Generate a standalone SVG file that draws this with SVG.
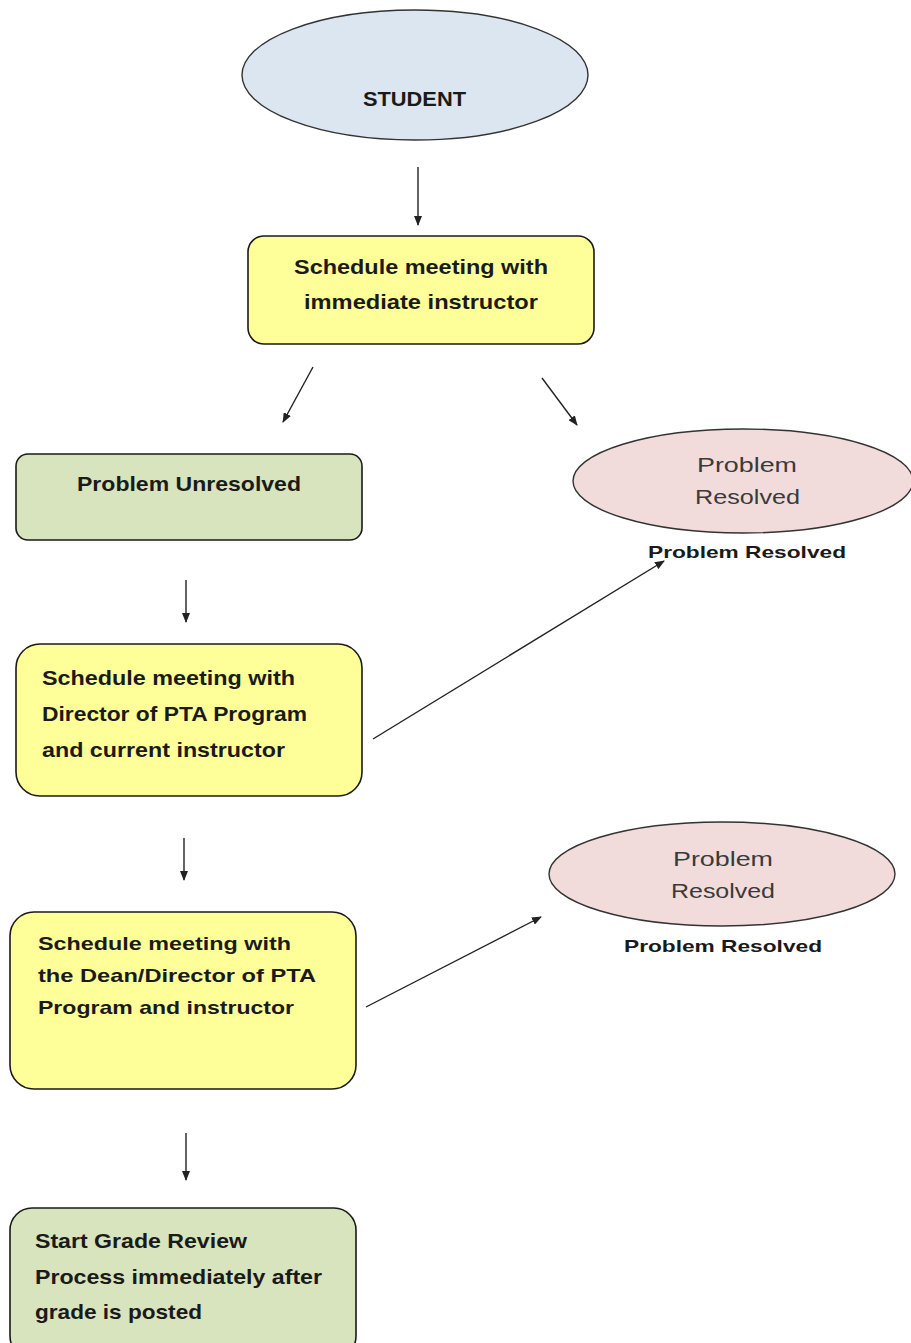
<svg xmlns="http://www.w3.org/2000/svg" width="911" height="1343" viewBox="0 0 911 1343">
<style>
.box{stroke:#1a1a1a;stroke-width:1.6}
.yel{fill:#ffff99}
.grn{fill:#d7e4bd}
.pink{fill:#f2dcdb;stroke:#333;stroke-width:1.4}
.blue{fill:#dce6f1;stroke:#333;stroke-width:1.4}
.bt{font-family:"Liberation Sans",Arial,sans-serif;font-weight:bold;font-size:21px;fill:#1a1a1a}
.bt19{font-family:"Liberation Sans",Arial,sans-serif;font-weight:bold;font-size:19px;fill:#1a1a1a}
.et{font-family:"Liberation Sans",Arial,sans-serif;font-size:20px;fill:#3a3a3a}
.lb{font-family:"Liberation Sans",Arial,sans-serif;font-weight:bold;font-size:17px;fill:#1a1a1a}
.con{stroke:#222;stroke-width:1.4;fill:none;marker-end:url(#ah)}
</style>
<defs>
<marker id="ah" markerWidth="10" markerHeight="8" refX="9" refY="4" orient="auto" markerUnits="userSpaceOnUse">
<path d="M0,0 L10,4 L0,8 Z" fill="#222"/>
</marker>
</defs>
<rect width="911" height="1343" fill="#ffffff"/>

<g id="connectors">
<line class="con" x1="418" y1="167" x2="418" y2="225"/>
<line class="con" x1="313" y1="367" x2="283" y2="422"/>
<line class="con" x1="542" y1="378" x2="577" y2="425"/>
<line class="con" x1="186" y1="580" x2="186" y2="622"/>
<line class="con" x1="373" y1="739" x2="664" y2="561"/>
<line class="con" x1="184" y1="838" x2="184" y2="880"/>
<line class="con" x1="366" y1="1007" x2="541" y2="917"/>
<line class="con" x1="186" y1="1133" x2="186" y2="1180"/>
</g>

<g id="student">
<ellipse class="blue" cx="415" cy="75" rx="173" ry="65"/>
<text class="bt" x="363" y="106" textLength="103" lengthAdjust="spacingAndGlyphs">STUDENT</text>
</g>

<g id="meeting-instructor">
<rect class="box yel" x="248" y="236" width="346" height="108" rx="16"/>
<text class="bt" x="294" y="274" textLength="254" lengthAdjust="spacingAndGlyphs">Schedule meeting with</text>
<text class="bt" x="304" y="309" textLength="234" lengthAdjust="spacingAndGlyphs">immediate instructor</text>
</g>

<g id="problem-unresolved">
<rect class="box grn" x="16" y="454" width="346" height="86" rx="12"/>
<text class="bt" x="77" y="491" textLength="224" lengthAdjust="spacingAndGlyphs">Problem Unresolved</text>
</g>

<g id="resolved-1">
<ellipse class="pink" cx="743" cy="481" rx="170" ry="52"/>
<text class="et" x="697" y="472" textLength="100" lengthAdjust="spacingAndGlyphs">Problem</text>
<text class="et" x="695" y="504" textLength="105" lengthAdjust="spacingAndGlyphs">Resolved</text>
<text class="lb" x="648" y="558" textLength="198" lengthAdjust="spacingAndGlyphs">Problem Resolved</text>
</g>

<g id="meeting-director">
<rect class="box yel" x="16" y="644" width="346" height="152" rx="24"/>
<text class="bt" x="42" y="685" textLength="253" lengthAdjust="spacingAndGlyphs">Schedule meeting with</text>
<text class="bt" x="42" y="721" textLength="265" lengthAdjust="spacingAndGlyphs">Director of PTA Program</text>
<text class="bt" x="42" y="757" textLength="243" lengthAdjust="spacingAndGlyphs">and current instructor</text>
</g>

<g id="resolved-2">
<ellipse class="pink" cx="722" cy="874" rx="173" ry="52"/>
<text class="et" x="673" y="866" textLength="100" lengthAdjust="spacingAndGlyphs">Problem</text>
<text class="et" x="671" y="898" textLength="104" lengthAdjust="spacingAndGlyphs">Resolved</text>
<text class="lb" x="624" y="952" textLength="198" lengthAdjust="spacingAndGlyphs">Problem Resolved</text>
</g>

<g id="meeting-dean">
<rect class="box yel" x="10" y="912" width="346" height="177" rx="24"/>
<text class="bt19" x="38" y="950" textLength="253" lengthAdjust="spacingAndGlyphs">Schedule meeting with</text>
<text class="bt19" x="38" y="982" textLength="278" lengthAdjust="spacingAndGlyphs">the Dean/Director of PTA</text>
<text class="bt19" x="38" y="1014" textLength="256" lengthAdjust="spacingAndGlyphs">Program and instructor</text>
</g>

<g id="grade-review">
<rect class="box grn" x="10" y="1208" width="346" height="150" rx="22"/>
<text class="bt" x="35" y="1248" textLength="212" lengthAdjust="spacingAndGlyphs">Start Grade Review</text>
<text class="bt" x="35" y="1284" textLength="287" lengthAdjust="spacingAndGlyphs">Process immediately after</text>
<text class="bt" x="35" y="1319" textLength="167" lengthAdjust="spacingAndGlyphs">grade is posted</text>
</g>
</svg>
